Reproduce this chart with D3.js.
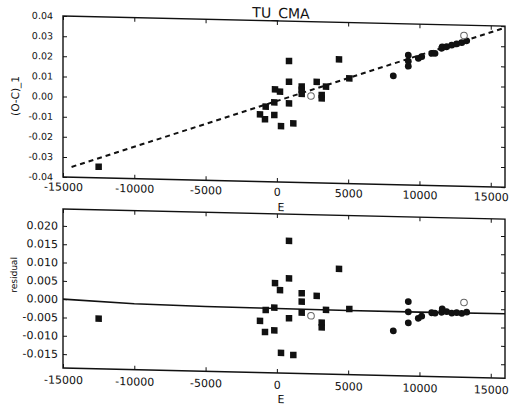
<!DOCTYPE html>
<html>
<head>
<meta charset="utf-8">
<script src="https://cdn.jsdelivr.net/npm/d3@7"></script>
<style>
  html, body { margin: 0; padding: 0; background: #fff; }
  svg { display: block; }
  text { font-family: "DejaVu Sans", sans-serif; fill: #111; }
</style>
</head>
<body>
<svg id="chart" width="509" height="405"></svg>
<script>
// Cycle number E of each timing
const cycles = [-12500, -1183, -833, -783, -180, -180, -130, 220, 290, 851, 851, 851, 1153,
  1742, 1742, 1742, 2394, 2794, 3145, 3145, 3446, 4358, 5080, 8166, 9218, 9218, 9218,
  9920, 10158, 10860, 11090, 11562, 11600, 11912, 12263, 12613, 12964, 13315, 13125];
// O-C values (days)
const ocValues = [-0.0345, -0.0066, -0.0090, -0.0027, -0.0005, -0.0068, 0.0060, 0.0049, -0.0122,
  0.0202, 0.0099, -0.0008, -0.0107, 0.0077, 0.0060, 0.0040, 0.0031, 0.0102, 0.0037, 0.0020,
  0.0079, 0.0216, 0.0123, 0.0140, 0.0245, 0.0215, 0.0190, 0.0230, 0.0239, 0.0256, 0.0257,
  0.0283, 0.0290, 0.0291, 0.0300, 0.0306, 0.0313, 0.0323, 0.0349];
// residuals after the fit
const residuals = [-0.0051, -0.0047, -0.0077, -0.0017, -0.0010, -0.0072, 0.0057, 0.0038, -0.0133,
  0.0173, 0.0071, -0.0038, -0.0138, 0.0031, 0.0008, -0.0022, -0.0030, 0.0025, -0.0048, -0.0061,
  -0.0013, 0.0100, -0.0009, -0.0066, 0.0015, -0.0013, -0.0043, -0.0030, -0.0024, -0.0014, -0.0015,
  -0.0012, -0.0003, -0.0010, -0.0014, -0.0012, -0.0014, -0.0010, 0.0016];
// marker kind: s = filled square, c = filled circle, o = open circle
const kinds = ["s","s","s","s","s","s","s","s","s","s","s","s","s","s","s","s","o","s","s","s",
  "s","s","s","c","c","c","c","c","c","c","c","c","c","c","c","c","c","c","o"];

// linear ephemeris fit (dashed) and the residual trend curve
const fitE = [-14400, 16000];
const fitOC = [-0.0349, 0.0392];
const trendE = [-15000, -10000, -5000, 0, 5000, 10000, 16000];
const trendRes = [0.0000, -0.0008, -0.0011, -0.0012, -0.0013, -0.0013, -0.0012];

// ticks
const xTicks = [-15000, -10000, -5000, 0, 5000, 10000, 15000];
const xTickLabels = ["-15000", "-10000", "-5000", "0", "5000", "10000", "15000"];
const ocTicks = [0.04, 0.03, 0.02, 0.01, 0, -0.01, -0.02, -0.03, -0.04];
const ocTickLabels = ["0.04", "0.03", "0.02", "0.01", "0.00", "-0.01", "-0.02", "-0.03", "-0.04"];
const resTicks = [0.020, 0.015, 0.010, 0.005, 0, -0.005, -0.010, -0.015];
const resTickLabels = ["0.020", "0.015", "0.010", "0.005", "0.000", "-0.005", "-0.010", "-0.015"];

const title = "TU_CMA";
const xLabel = "E";
const ocLabel = "(O-C)_1";
const resLabel = "residual";

const points = cycles.map((e, i) => ({ e, oc: ocValues[i], res: residuals[i], kind: kinds[i] }));

const svg = d3.select("#chart");
const tilt = 0.023;
const root = svg.append("g")
  .attr("transform", `translate(0,${-63 * tilt}) skewY(${Math.atan(tilt) * 180 / Math.PI})`);

const left = 63, right = 505;
const x = d3.scaleLinear().domain([-15000, 16000]).range([left, right]);

function panel(cfg) {
  const y = d3.scaleLinear().domain(cfg.domain).range([cfg.bottom, cfg.top]);
  const g = root.append("g");
  const clipId = "clip" + cfg.id;
  g.append("clipPath").attr("id", clipId).append("rect")
    .attr("x", left).attr("y", cfg.top).attr("width", right - left).attr("height", cfg.bottom - cfg.top);

  const plot = g.append("g").attr("clip-path", `url(#${clipId})`);
  const line = d3.line().x(d => x(d[0])).y(d => y(d[1]));
  plot.append("path")
    .attr("d", line(cfg.lineE.map((e, i) => [e, cfg.lineV[i]])))
    .attr("fill", "none").attr("stroke", "#111")
    .attr("stroke-width", cfg.dashed ? 2 : 1.6)
    .attr("stroke-dasharray", cfg.dashed ? "5,4" : null);

  const sq = 6.5;
  plot.selectAll("rect.pt").data(points.filter(p => p.kind === "s")).join("rect")
    .attr("class", "pt")
    .attr("x", p => x(p.e) - sq / 2).attr("y", p => y(p[cfg.key]) - sq / 2)
    .attr("width", sq).attr("height", sq).attr("fill", "#111");
  plot.selectAll("circle.pt").data(points.filter(p => p.kind === "c")).join("circle")
    .attr("class", "pt")
    .attr("cx", p => x(p.e)).attr("cy", p => y(p[cfg.key])).attr("r", 3.4).attr("fill", "#111");
  plot.selectAll("circle.op").data(points.filter(p => p.kind === "o")).join("circle")
    .attr("class", "op")
    .attr("cx", p => x(p.e)).attr("cy", p => y(p[cfg.key])).attr("r", 3.3)
    .attr("fill", "#fff").attr("stroke", "#666").attr("stroke-width", 1);

  // axes, ticks pointing inward
  const ax = (axis, tx, ty) => {
    const a = g.append("g").attr("transform", `translate(${tx},${ty})`).call(axis);
    a.select(".domain").remove();
    a.selectAll(".tick line").attr("stroke", "#111").attr("stroke-width", 1);
    return a;
  };
  const bx = ax(d3.axisBottom(x).tickValues(xTicks).tickFormat((d, i) => xTickLabels[i])
    .tickSize(-4).tickPadding(cfg.xPad), 0, cfg.bottom);
  bx.selectAll("text").attr("font-size", 11).attr("fill", "#111");
  ax(d3.axisTop(x).tickValues(xTicks).tickFormat("").tickSize(-4), 0, cfg.top);
  const ly = ax(d3.axisLeft(y).tickValues(cfg.ticks).tickFormat((d, i) => cfg.labels[i])
    .tickSize(-4).tickPadding(cfg.yPad), left, 0);
  ly.selectAll("text").attr("font-size", cfg.yFont).attr("fill", "#111");
  ax(d3.axisRight(y).tickValues(cfg.ticks).tickFormat("").tickSize(-4), right, 0);

  g.append("rect").attr("x", left).attr("y", cfg.top)
    .attr("width", right - left).attr("height", cfg.bottom - cfg.top)
    .attr("fill", "none").attr("stroke", "#111").attr("stroke-width", 1.4);

  g.append("text").attr("x", 281).attr("y", cfg.xLabelY).attr("text-anchor", "middle")
    .attr("font-size", 11).text(xLabel);
  g.append("text").attr("transform", `translate(${cfg.yLabelX},${cfg.yLabelMid}) rotate(-90)`)
    .attr("text-anchor", "middle").attr("font-size", cfg.yLabelFont).text(cfg.yLabel);
}

panel({ id: "oc", key: "oc", top: 16, bottom: 177, domain: [-0.04, 0.04],
  ticks: ocTicks, labels: ocTickLabels, yFont: 9.5, yPad: 10, xPad: 6,
  lineE: fitE, lineV: fitOC, dashed: true,
  xLabelY: 206, yLabel: ocLabel, yLabelX: 19, yLabelMid: 97, yLabelFont: 10.5 });

panel({ id: "res", key: "res", top: 209, bottom: 368, domain: [-0.0188, 0.0246],
  ticks: resTicks, labels: resTickLabels, yFont: 11, yPad: 5, xPad: 8,
  lineE: trendE, lineV: trendRes, dashed: false,
  xLabelY: 398, yLabel: resLabel, yLabelX: 17, yLabelMid: 276, yLabelFont: 9 });

root.append("text").attr("x", 281).attr("y", 13).attr("text-anchor", "middle")
  .attr("font-size", 14).text(title);
</script>
</body>
</html>
